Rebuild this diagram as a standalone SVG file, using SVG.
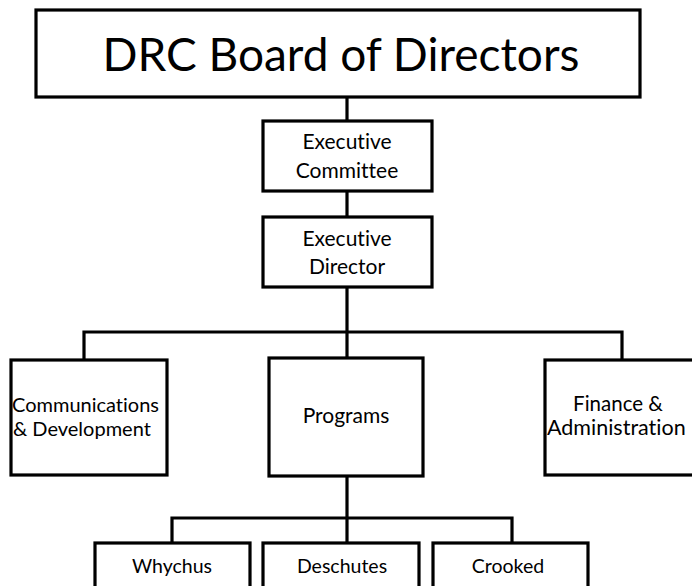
<svg xmlns="http://www.w3.org/2000/svg" width="692" height="586" viewBox="0 0 692 586">
  <style>
    .box { fill: #ffffff; stroke: #000000; stroke-width: 3.2; }
    .link { fill: none; stroke: #000000; stroke-width: 3.2; }
    text { font-family: Lato, "Liberation Sans", sans-serif; fill: #000000; font-variant-ligatures: none; }
    .lbl { font-size: 21px; text-anchor: middle; }
    .sub { font-size: 19.5px; text-anchor: middle; }
  </style>
  <rect width="692" height="586" fill="#ffffff"/>

  <!-- connectors -->
  <g id="connectors">
    <path class="link" d="M347 97 V121"/>
    <path class="link" d="M347 191 V217"/>
    <path class="link" d="M347 287 V358"/>
    <path class="link" d="M84 360 V332 H622 V360"/>
    <path class="link" d="M347 476 V543"/>
    <path class="link" d="M172 543 V518 H512 V543"/>
  </g>

  <g id="board">
    <rect class="box" x="36" y="10" width="604" height="87"/>
    <text x="341" y="71" font-size="46" text-anchor="middle">DRC Board of Directors</text>
  </g>

  <g id="exec-committee">
    <rect class="box" x="263" y="121" width="169" height="70"/>
    <text class="lbl" x="347" y="149">Executive</text>
    <text class="lbl" x="347" y="178">Committee</text>
  </g>

  <g id="exec-director">
    <rect class="box" x="263" y="217" width="169" height="70"/>
    <text class="lbl" x="347" y="246">Executive</text>
    <text class="lbl" x="347" y="274">Director</text>
  </g>

  <g id="communications">
    <rect class="box" x="11" y="360" width="156" height="115"/>
    <text x="12" y="412" font-size="20">Communications</text>
    <text x="13" y="436" font-size="20">&amp; Development</text>
  </g>

  <g id="programs">
    <rect class="box" x="269" y="358" width="154" height="118"/>
    <text class="lbl" x="346" y="423">Programs</text>
  </g>

  <g id="finance">
    <rect class="box" x="545" y="360" width="160" height="115"/>
    <text x="618" y="411" font-size="20.5" text-anchor="middle">Finance &amp;</text>
    <text x="547" y="435" font-size="21.5">Administration</text>
  </g>

  <g id="whychus">
    <rect class="box" x="95" y="543" width="155" height="60"/>
    <text class="sub" x="172" y="573">Whychus</text>
  </g>

  <g id="deschutes">
    <rect class="box" x="263" y="543" width="156" height="60"/>
    <text class="sub" x="342" y="573">Deschutes</text>
  </g>

  <g id="crooked">
    <rect class="box" x="433" y="543" width="155" height="60"/>
    <text class="sub" x="508" y="573">Crooked</text>
  </g>
</svg>
